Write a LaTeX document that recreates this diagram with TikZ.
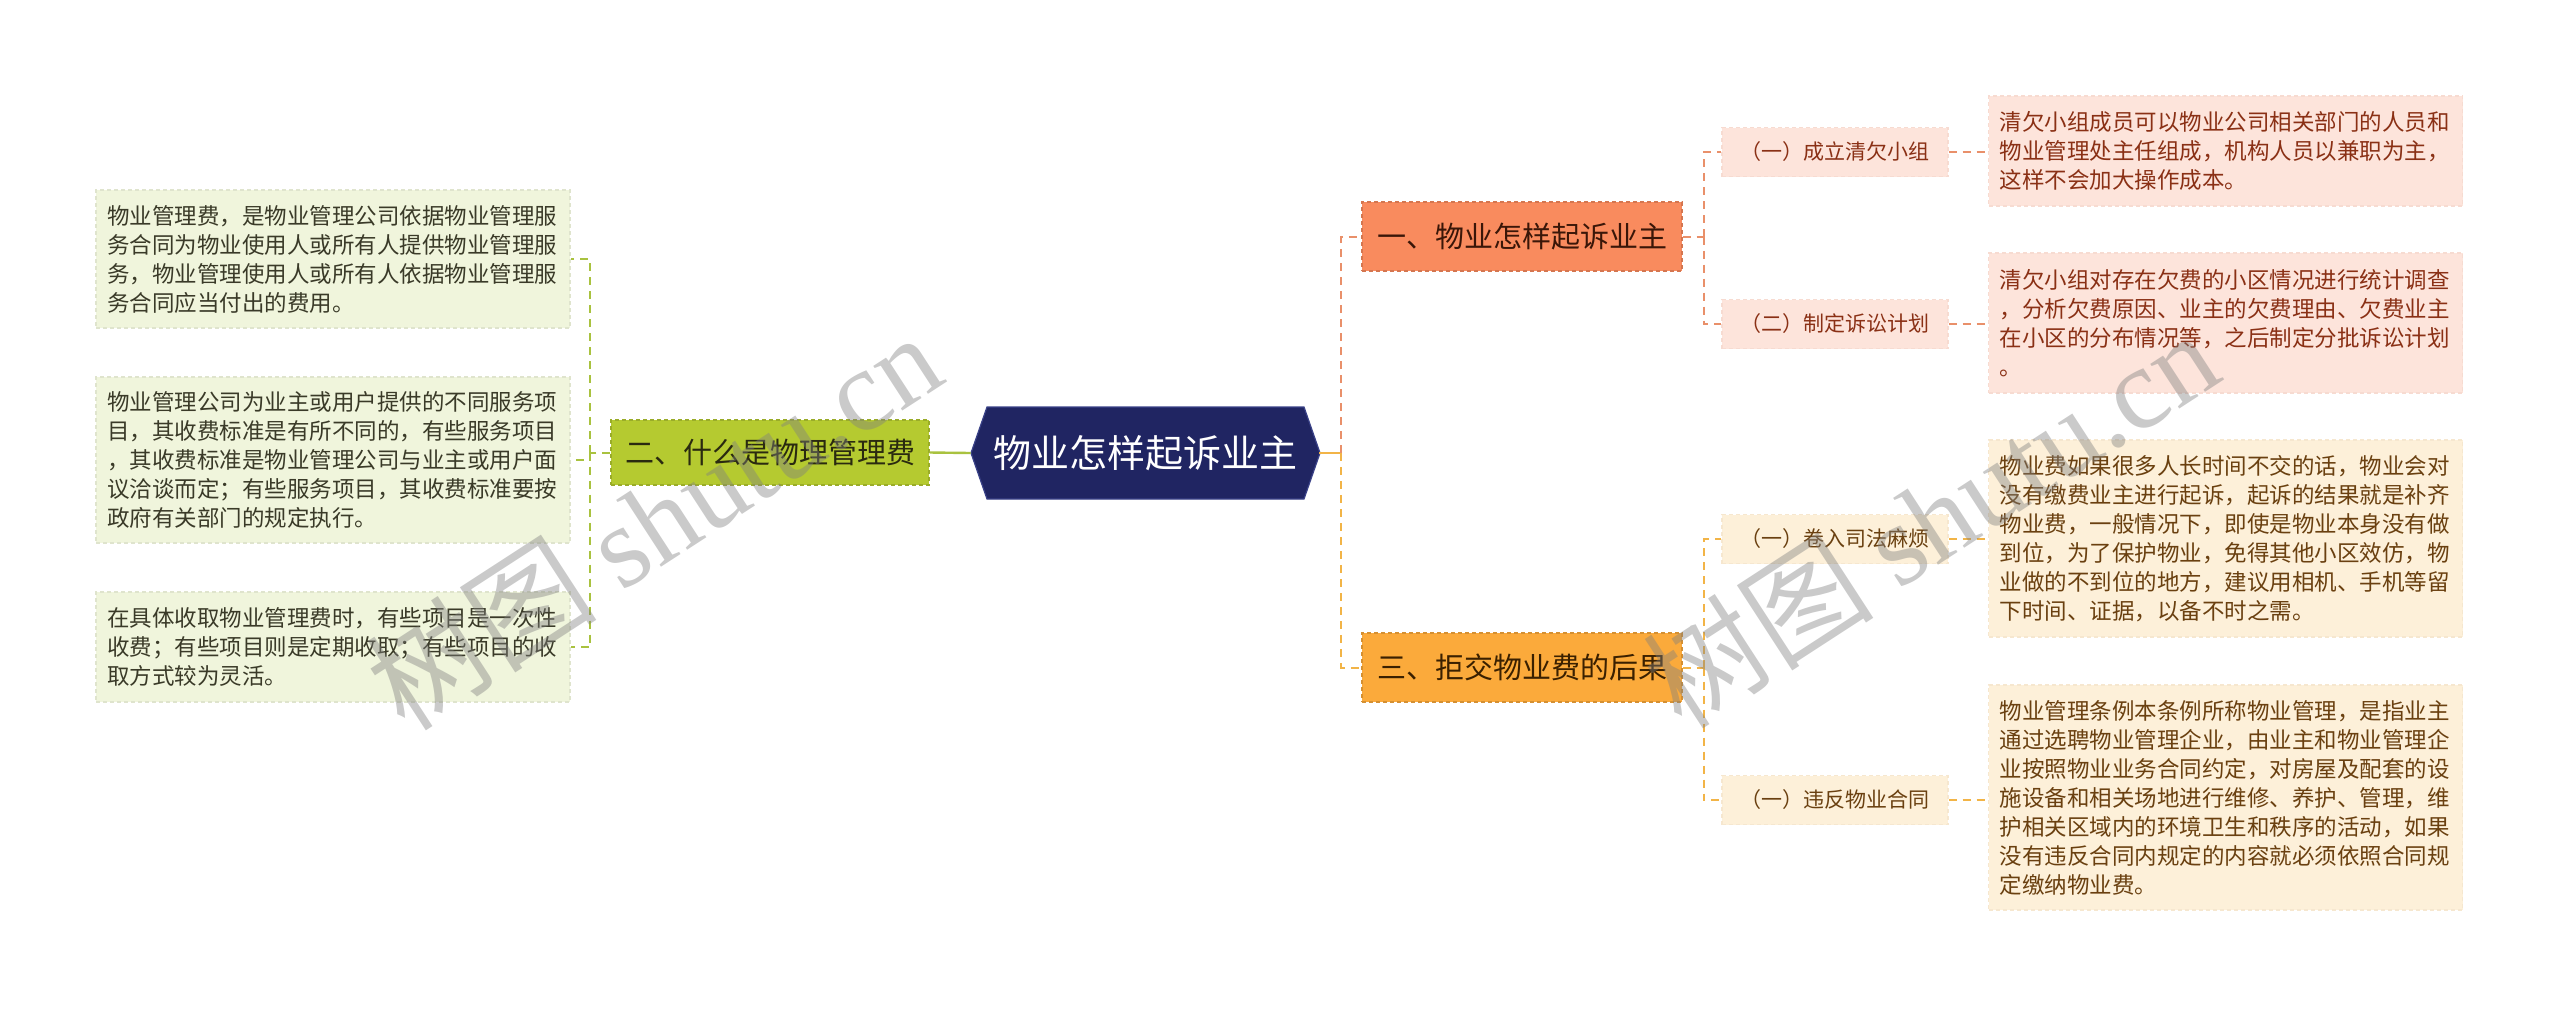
\documentclass[tikz,border=0pt]{standalone}
\usepackage{fontspec}
\setmainfont{Noto Sans CJK SC}
\newfontfamily\wmlatin{Liberation Serif}
\definecolor{rootfill}{HTML}{202562}
\definecolor{rootline}{HTML}{3A4288}
\definecolor{bonefill}{HTML}{F98B5E}
\definecolor{btwofill}{HTML}{B5CA30}
\definecolor{bthreefill}{HTML}{FBAA3B}
\definecolor{leafgreen}{HTML}{F0F5DC}
\definecolor{leafpink}{HTML}{FDE4DB}
\definecolor{leafcream}{HTML}{FDF0D9}
\definecolor{txtgreen}{HTML}{3A3A28}
\definecolor{txtpink}{HTML}{8A3015}
\definecolor{txtcream}{HTML}{6A4010}
\definecolor{txtbone}{HTML}{3A1608}
\definecolor{txtbtwo}{HTML}{2A2A10}
\definecolor{txtbthree}{HTML}{3A2000}
\definecolor{lngreen}{HTML}{A9C23F}
\definecolor{lnsalmon}{HTML}{E9906A}
\definecolor{lnorange}{HTML}{F2B447}
\tikzset{
  conn/.style={line width=1pt, dash pattern=on 4pt off 3pt},
  boxbase/.style={rectangle, inner sep=0pt, line width=0.6pt, dash pattern=on 2pt off 1.5pt},
  branchbox/.style={boxbase, minimum width=160pt, minimum height=34.5pt, font=\fontsize{14.5pt}{17pt}\selectfont},
  subbox/.style={boxbase, minimum width=113pt, minimum height=24.5pt, font=\fontsize{10.5pt}{13pt}\selectfont},
  leafbox/.style={boxbase, text width=226pt, inner xsep=5.5pt, align=left, font=\fontsize{11.25pt}{14.5pt}\selectfont},
  greenleaf/.style={leafbox, fill=leafgreen, draw=leafgreen!93!black, text=txtgreen},
  pinkleaf/.style={leafbox, fill=leafpink, draw=leafpink!95!txtpink, text=txtpink},
  creamleaf/.style={leafbox, fill=leafcream, draw=leafcream!95!txtcream, text=txtcream},
  pinksub/.style={subbox, fill=leafpink, draw=leafpink!95!txtpink, text=txtpink},
  creamsub/.style={subbox, fill=leafcream, draw=leafcream!95!txtcream, text=txtcream},
  watermark/.style={text=gray, opacity=0.42, rotate=33, font=\fontsize{58pt}{60pt}\selectfont}
}
\begin{document}
\begin{tikzpicture}[x=0.5pt,y=-0.5pt]
\useasboundingbox (0,0) rectangle (2560,1008);

% root hexagon
\coordinate (rc) at (1145,453);
\filldraw[fill=rootfill, draw=rootline, line width=0.6pt]
  (971,453) -- (987,407) -- (1304,407) -- (1320,453) -- (1304,499) -- (987,499) -- cycle;
\node[minimum width=174pt, minimum height=46pt, inner sep=0pt, text=white,
  font=\fontsize{19pt}{22pt}\selectfont] (root) at (rc) {物业怎样起诉业主};

% branches
\node[branchbox, fill=btwofill, draw=btwofill!85!black, text=txtbtwo,
  minimum width=159pt, minimum height=32.5pt] (b2) at (770,452.5) {二、什么是物理管理费};
\node[branchbox, fill=bonefill, draw=bonefill!85!black, text=txtbone] (b1) at (1522,236.5) {一、物业怎样起诉业主};
\node[branchbox, fill=bthreefill, draw=bthreefill!85!black, text=txtbthree] (b3) at (1522,667.5) {三、拒交物业费的后果};

% left leaves
\node[greenleaf, minimum height=69pt] (l1) at (333,259) {物业管理费，是物业管理公司依据物业管理服\\务合同为物业使用人或所有人提供物业管理服\\务，物业管理使用人或所有人依据物业管理服\\务合同应当付出的费用。};
\node[greenleaf, minimum height=83pt] (l2) at (333,460) {物业管理公司为业主或用户提供的不同服务项\\目，其收费标准是有所不同的，有些服务项目\\，其收费标准是物业管理公司与业主或用户面\\议洽谈而定；有些服务项目，其收费标准要按\\政府有关部门的规定执行。};
\node[greenleaf, minimum height=55pt] (l3) at (333,647) {在具体收取物业管理费时，有些项目是一次性\\收费；有些项目则是定期收取；有些项目的收\\取方式较为灵活。};

% sub nodes
\node[pinksub] (s1) at (1835,152) {（一）成立清欠小组};
\node[pinksub] (s2) at (1835,324) {（二）制定诉讼计划};
\node[creamsub] (s3) at (1835,539) {（一）卷入司法麻烦};
\node[creamsub] (s4) at (1835,800) {（一）违反物业合同};

% right leaves
\node[pinkleaf, minimum height=55pt] (a1) at (2225.5,151) {清欠小组成员可以物业公司相关部门的人员和\\物业管理处主任组成，机构人员以兼职为主，\\这样不会加大操作成本。};
\node[pinkleaf, minimum height=70pt] (a2) at (2225.5,323) {清欠小组对存在欠费的小区情况进行统计调查\\，分析欠费原因、业主的欠费理由、欠费业主\\在小区的分布情况等，之后制定分批诉讼计划\\。};
\node[creamleaf, minimum height=98.5pt] (a3) at (2225.5,538.5) {物业费如果很多人长时间不交的话，物业会对\\没有缴费业主进行起诉，起诉的结果就是补齐\\物业费，一般情况下，即使是物业本身没有做\\到位，为了保护物业，免得其他小区效仿，物\\业做的不到位的地方，建议用相机、手机等留\\下时间、证据，以备不时之需。};
\node[creamleaf, minimum height=112.5pt] (a4) at (2225.5,797.5) {物业管理条例本条例所称物业管理，是指业主\\通过选聘物业管理企业，由业主和物业管理企\\业按照物业业务合同约定，对房屋及配套的设\\施设备和相关场地进行维修、养护、管理，维\\护相关区域内的环境卫生和秩序的活动，如果\\没有违反合同内规定的内容就必须依照合同规\\定缴纳物业费。};

% connectors: root to branches
\draw[lngreen, line width=1.2pt] (root.west) -- (b2.east);
\coordinate (rj) at ([xshift=11pt]root.east);
\draw[lnorange, line width=1.2pt] (root.east) -- (rj);
\draw[conn, lnsalmon] (rj) |- (b1.west);
\draw[conn, lnorange] (rj) |- (b3.west);

% left side
\coordinate (lj) at ([xshift=-10pt]b2.west);
\draw[conn, lngreen] (b2.west) -- (lj);
\draw[conn, lngreen] (lj) |- (l1.east);
\draw[conn, lngreen] (lj) |- (l2.east);
\draw[conn, lngreen] (lj) |- (l3.east);

% branch one
\coordinate (j1) at ([xshift=10.5pt]b1.east);
\draw[conn, lnsalmon] (b1.east) -- (j1);
\draw[conn, lnsalmon] (j1) |- (s1.west);
\draw[conn, lnsalmon] (j1) |- (s2.west);
\draw[conn, lnsalmon] (s1.east) -- (s1.east -| a1.west);
\draw[conn, lnsalmon] (s2.east) -- (s2.east -| a2.west);

% branch three
\coordinate (j3) at ([xshift=10.5pt]b3.east);
\draw[conn, lnorange] (b3.east) -- (j3);
\draw[conn, lnorange] (j3) |- (s3.west);
\draw[conn, lnorange] (j3) |- (s4.west);
\draw[conn, lnorange] (s3.east) -- (s3.east -| a3.west);
\draw[conn, lnorange] (s4.east) -- (s4.east -| a4.west);

% watermarks
\node[watermark] (wm1) at (653,520) {树图 {\wmlatin shutu.cn}};
\node[watermark] (wm2) at (1930,518) {树图 {\wmlatin shutu.cn}};
\end{tikzpicture}
\end{document}
